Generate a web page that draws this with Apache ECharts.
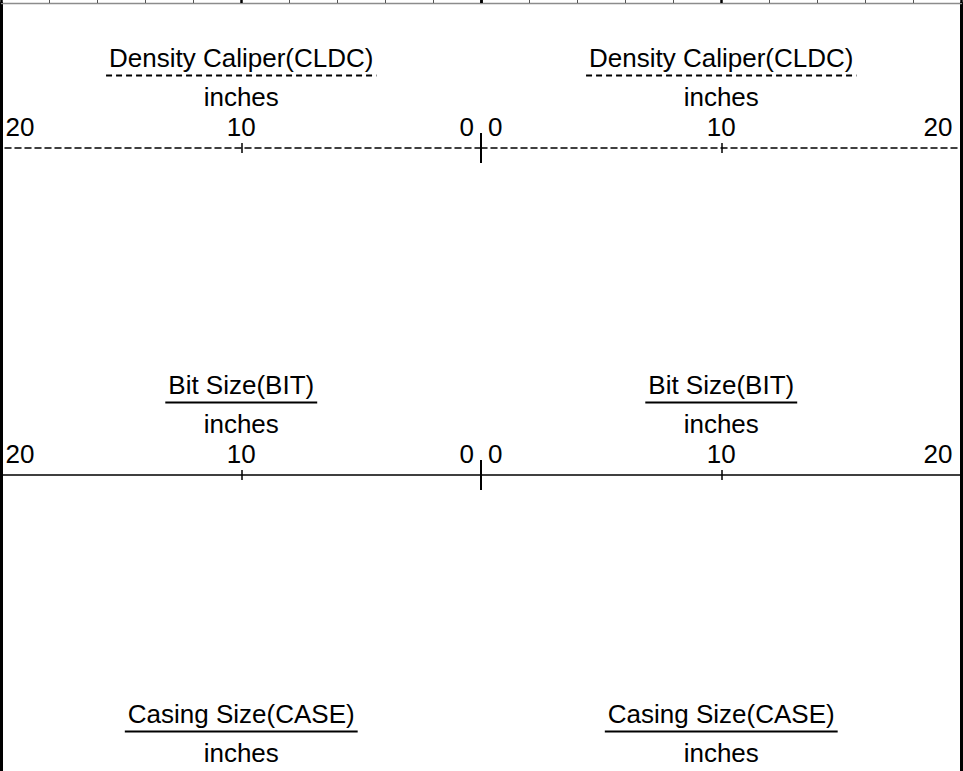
<!DOCTYPE html>
<html>
<head>
<meta charset="utf-8">
<script src="https://cdn.jsdelivr.net/npm/echarts@6/dist/echarts.min.js"></script>
<style>
  html, body { margin: 0; padding: 0; background: #ffffff; }
  #chart { width: 963px; height: 771px; }
</style>
</head>
<body>
<div id="chart"></div>
<script>
// Curve headers, top to bottom
const curveNames = ['Density Caliper(CLDC)', 'Bit Size(BIT)', 'Casing Size(CASE)'];
const curveUnits = ['inches', 'inches', 'inches'];
const curveLineTypes = ['dashed', 'solid', 'solid'];

// Scale of each curve header (both tracks use the same range)
const scaleMin = [0, 0, 0];
const scaleMax = [20, 20, 20];
const scaleStep = [10, 10, 10];

// Grid scale along the top edge of each track
const gridMin = 0;
const gridMax = 20;
const gridMinorStep = 2;
const gridMajorStep = 10;

const FONT = '"Liberation Sans", Arial, Helvetica, sans-serif';
const FS = 26;
const DASH = [6, 4];
const PAGE_H = 771;

// Two tracks: the left one runs right-to-left, the right one left-to-right
const tracks = [
  { left: 1.5, width: 479.5, inverse: true, side: 'left' },
  { left: 481, width: 480.5, inverse: false, side: 'right' }
];
const rowAxisY = [148, 475, 804];

function textWidth(str) {
  const ctx = document.createElement('canvas').getContext('2d');
  ctx.font = FS + 'px ' + FONT;
  return ctx.measureText(str).width;
}

const grid = [], xAxis = [], yAxis = [], series = [], graphic = [];

// Track frames and the top grid scale
tracks.forEach(function (t) {
  const gi = grid.length;
  grid.push({ left: t.left, width: t.width, top: 3, height: 800, outerBoundsMode: 'none', containLabel: false });
  yAxis.push({
    type: 'value', gridIndex: gi, min: 0, max: 1, position: t.side,
    axisLine: { show: true, onZero: false, lineStyle: { color: '#000', width: 3 } },
    axisTick: { show: false }, axisLabel: { show: false }, splitLine: { show: false }
  });
  xAxis.push({
    type: 'value', gridIndex: gi, min: gridMin, max: gridMax, interval: gridMinorStep,
    inverse: t.inverse, position: 'top',
    axisLine: { show: true, onZero: false, lineStyle: { color: '#8c8c8c', width: 1.3 } },
    axisTick: { show: true, length: 3, lineStyle: { color: '#555', width: 1 } },
    axisLabel: { show: false }, splitLine: { show: false }
  });
  xAxis.push({
    type: 'value', gridIndex: gi, min: gridMin, max: gridMax, interval: gridMajorStep,
    inverse: t.inverse, position: 'top',
    axisLine: { show: false, onZero: false },
    axisTick: { show: true, length: 3, lineStyle: { color: '#000', width: 2.5 } },
    axisLabel: { show: false }, splitLine: { show: false }
  });
});

// Curve header scales
curveNames.forEach(function (name, r) {
  const y0 = rowAxisY[r];
  const lineType = curveLineTypes[r] === 'dashed' ? DASH : 'solid';
  // scale numbers are only drawn when they sit inside the page
  const labelsOnPage = y0 - 8 <= PAGE_H;
  tracks.forEach(function (t) {
    const gi = grid.length;
    grid.push({ left: t.left, width: t.width, top: y0, height: 100, outerBoundsMode: 'none', containLabel: false });
    const yi = yAxis.length;
    yAxis.push({ type: 'value', gridIndex: gi, min: 0, max: 1, show: false });
    const lo = scaleMin[r], hi = scaleMax[r];
    const common = { type: 'value', gridIndex: gi, min: lo, max: hi, inverse: t.inverse, position: 'top', splitLine: { show: false } };

    const xi = xAxis.length;
    xAxis.push(Object.assign({}, common, {
      interval: scaleStep[r],
      name: '{t|' + name + '}\n{u|' + curveUnits[r] + '}',
      nameLocation: 'middle',
      nameGap: 36,
      nameMoveOverlap: false,
      nameTextStyle: {
        color: '#000', fontFamily: FONT, fontSize: FS,
        rich: {
          t: { color: '#000', fontFamily: FONT, fontSize: FS, lineHeight: 48 },
          u: { color: '#000', fontFamily: FONT, fontSize: FS, lineHeight: 30 }
        }
      },
      axisLine: { show: true, onZero: false, lineStyle: { color: '#000', width: 1.5, type: lineType } },
      axisTick: { show: true, length: 5, lineStyle: { color: '#000', width: 1.5 } },
      axisLabel: {
        show: labelsOnPage, margin: 8, color: '#000', fontFamily: FONT, fontSize: FS,
        alignMinLabel: t.inverse ? 'right' : 'left',
        alignMaxLabel: t.inverse ? 'left' : 'right',
        formatter: function (v) {
          if (v === lo) return (t.inverse ? '{a|' : '{b|') + v + '}';
          if (v === hi) return (t.inverse ? '{c|' : '{d|') + v + '}';
          return '{m|' + v + '}';
        },
        rich: {
          a: { fontFamily: FONT, fontSize: FS, color: '#000', lineHeight: 26, padding: [0, 7, 0, 0] },
          b: { fontFamily: FONT, fontSize: FS, color: '#000', lineHeight: 26, padding: [0, 0, 0, 7] },
          c: { fontFamily: FONT, fontSize: FS, color: '#000', lineHeight: 26, padding: [0, 0, 0, 4] },
          d: { fontFamily: FONT, fontSize: FS, color: '#000', lineHeight: 26, padding: [0, 9, 0, 0] },
          m: { fontFamily: FONT, fontSize: FS, color: '#000', lineHeight: 26 }
        }
      }
    }));
    // ticks crossing below the scale line
    xAxis.push(Object.assign({}, common, {
      interval: scaleStep[r], axisLine: { show: false, onZero: false }, axisLabel: { show: false },
      axisTick: { show: true, inside: true, length: 5, lineStyle: { color: '#000', width: 1.5 } }
    }));
    // long mark where the two tracks meet
    xAxis.push(Object.assign({}, common, {
      interval: hi - lo, axisLine: { show: false, onZero: false }, axisLabel: { show: false },
      axisTick: { show: true, length: 15, lineStyle: { color: '#000', width: 2 } }
    }));
    xAxis.push(Object.assign({}, common, {
      interval: hi - lo, axisLine: { show: false, onZero: false }, axisLabel: { show: false },
      axisTick: { show: true, inside: true, length: 15, lineStyle: { color: '#000', width: 2 } }
    }));

    series.push({ type: 'line', name: name, xAxisIndex: xi, yAxisIndex: yi, data: [], silent: true });

    // underline between the curve name and its unit
    const cx = t.left + t.width / 2;
    const half = textWidth(name) / 2 + 3;
    graphic.push({
      type: 'line', silent: true, z: 10,
      shape: { x1: cx - half, y1: y0 - 72.5, x2: cx + half, y2: y0 - 72.5 },
      style: { stroke: '#000', lineWidth: 2, lineDash: curveLineTypes[r] === 'dashed' ? DASH : null }
    });
  });
});

const chart = echarts.init(document.getElementById('chart'), null, { renderer: 'svg' });
chart.setOption({
  animation: false,
  backgroundColor: '#ffffff',
  grid: grid,
  xAxis: xAxis,
  yAxis: yAxis,
  series: series,
  graphic: graphic
});
</script>
</body>
</html>
